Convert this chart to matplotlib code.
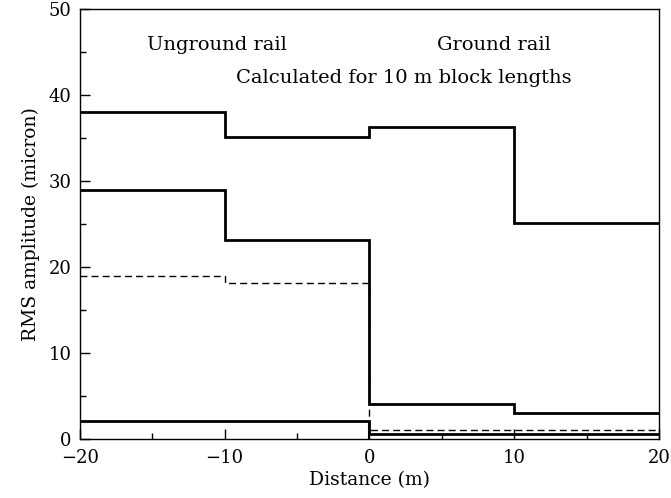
import matplotlib
matplotlib.use("Agg")
import matplotlib.pyplot as plt
from matplotlib.ticker import MultipleLocator

# Block edges (m)
edges = [-20, -10, 0, 10, 20]

# Solid series (RMS amplitude per 10 m block)
upper_solid = [38.0, 35.1, 36.3, 25.1]
mid_solid = [29.0, 23.2, 4.1, 3.1]
low_solid = [2.1, 2.1, 0.6, 0.6]
# Dashed series
dashed = [19.0, 18.2, 1.1, 1.1]

plt.rcParams['font.family'] = ['DejaVu Serif']

fig = plt.figure(figsize=(6.71, 4.98), dpi=100)
ax = fig.add_axes([0.119, 0.118, 0.863, 0.864])

def step(vals, **kw):
    ax.stairs(vals, edges, baseline=None, **kw)

step(dashed, color='black', lw=1.0, linestyle=(0, (5, 3)))
step(upper_solid, color='black', lw=2.0)
step(mid_solid, color='black', lw=2.0)
step(low_solid, color='black', lw=2.0)
# vertical drop of the lowest series at x = 0
ax.vlines(0, 0, low_solid[1], color='black', lw=1.5)

ax.set_xlim(-20, 20)
ax.set_ylim(0, 50)
ax.xaxis.set_major_locator(MultipleLocator(10))
ax.xaxis.set_minor_locator(MultipleLocator(5))
ax.yaxis.set_major_locator(MultipleLocator(10))
ax.yaxis.set_minor_locator(MultipleLocator(5))
ax.tick_params(which='both', direction='in', top=False, right=False, labelsize=13)
ax.tick_params(axis='x', pad=7)
ax.tick_params(axis='y', pad=6)
ax.tick_params(which='major', length=7, width=1)
ax.tick_params(which='minor', length=4, width=1)
for s in ax.spines.values():
    s.set_linewidth(1.0)

ax.set_xlabel('Distance (m)', fontsize=13.5, labelpad=3)
ax.set_ylabel('RMS amplitude (micron)', fontsize=13.5, labelpad=6)

ax.text(-10.5, 45.8, 'Unground rail', ha='center', va='center', fontsize=14)
ax.text(8.6, 45.8, 'Ground rail', ha='center', va='center', fontsize=14)
ax.text(2.4, 42.0, 'Calculated for 10 m block lengths', ha='center', va='center', fontsize=14)

fig.savefig('out.png', dpi=100)
